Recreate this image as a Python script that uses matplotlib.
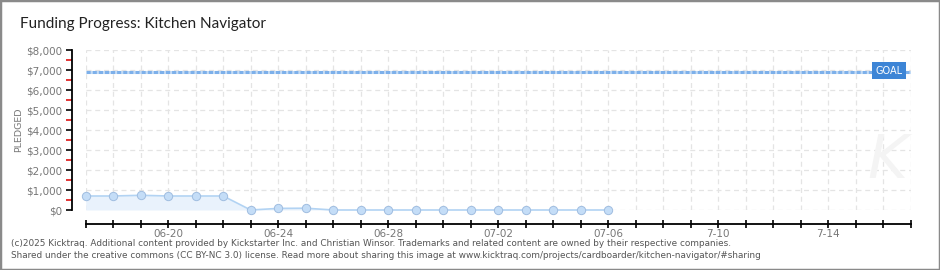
import pandas as pd
import matplotlib
matplotlib.use('Agg')
import matplotlib.pyplot as plt
import matplotlib.dates as mdates
from matplotlib.ticker import FuncFormatter, MultipleLocator
from matplotlib.patches import Rectangle

# данные
dates = ['2025-06-17', '2025-06-18', '2025-06-19', '2025-06-20', '2025-06-21',
         '2025-06-22', '2025-06-23', '2025-06-24', '2025-06-25', '2025-06-26',
         '2025-06-27', '2025-06-28', '2025-06-29', '2025-06-30', '2025-07-01',
         '2025-07-02', '2025-07-03', '2025-07-04', '2025-07-05', '2025-07-06']
pledged = [700, 700, 735, 700, 700, 700, 0, 80, 90, 0,
           0, 0, 0, 0, 0, 0, 0, 0, 0, 0]
goal = 6900
x_start, x_end = '2025-06-17', '2025-07-17'
label_dates = ['2025-06-20', '2025-06-24', '2025-06-28', '2025-07-02',
               '2025-07-06', '2025-07-10', '2025-07-14']
label_texts = ['06-20', '06-24', '06-28', '07-02', '07-06', '7-10', '7-14']

title = 'Funding Progress: Kitchen Navigator'
footer = ['(c)2025 Kicktraq. Additional content provided by Kickstarter Inc. and Christian Winsor. '
          'Trademarks and related content are owned by their respective companies.',
          'Shared under the creative commons (CC BY-NC 3.0) license. Read more about sharing this image at '
          'www.kicktraq.com/projects/cardboarder/kitchen-navigator/#sharing']

x = pd.to_datetime(dates)
labels = dict(zip(pd.to_datetime(label_dates).date, label_texts))

fig = plt.figure(figsize=(9.4, 2.7), dpi=100)
ax = fig.add_axes([85.7 / 940, 60 / 270, 825 / 940, 160 / 270])

# сетка
ax.set_axisbelow(True)
ax.grid(True, color='#e4e4e4', linestyle=(0, (4, 3)), linewidth=0.9)

# линия цели
ax.plot([pd.Timestamp(x_start), pd.Timestamp(x_end)], [goal, goal],
        color='#7db0ea', linewidth=2.2, linestyle=(0, (1.4, 0.6)),
        gapcolor='#c3dbf5', zorder=3)
ax.text(pd.Timestamp('2025-07-16') + pd.Timedelta(hours=5), goal + 60, 'GOAL',
        color='white', fontsize=7, ha='center', va='center',
        bbox=dict(boxstyle='square,pad=0.35', facecolor='#3d85d6', edgecolor='none'),
        zorder=5)

# данные по сборам
ax.fill_between(x, pledged, 0, color='#e9f2fc', linewidth=0, zorder=2, clip_on=False)
ax.plot(x, pledged, color='#b2d3f3', linewidth=1.2, marker='o', markersize=6,
        markerfacecolor='#c4ddf7', markeredgecolor='#a0bde0', markeredgewidth=0.7,
        zorder=4, clip_on=False)

# водяной знак
ax.text(0.972, 0.12, 'K', transform=ax.transAxes, fontsize=44, style='italic',
        color='#f4f4f4', ha='center', va='bottom', zorder=1)

# оси
ax.set_xlim(pd.Timestamp(x_start), pd.Timestamp(x_end))
ax.set_ylim(0, 8000)
ax.spines['top'].set_visible(False)
ax.spines['right'].set_visible(False)
ax.spines['left'].set_position(('outward', 10))
ax.spines['bottom'].set_position(('outward', 10))
for s in ('left', 'bottom'):
    ax.spines[s].set_linewidth(1.3)
    ax.spines[s].set_color('black')

ax.yaxis.set_major_locator(MultipleLocator(1000))
ax.yaxis.set_minor_locator(MultipleLocator(500))
ax.yaxis.set_major_formatter(FuncFormatter(lambda v, p: '${:,.0f}'.format(v)))
ax.tick_params(axis='y', which='major', direction='out', length=4, width=1.2,
               color='black', labelsize=7.5, labelcolor='#777777', pad=3)
ax.tick_params(axis='y', which='minor', direction='out', length=4, width=1.2,
               color='#dd1111')

ax.xaxis.set_major_locator(mdates.DayLocator())
ax.xaxis.set_major_formatter(FuncFormatter(
    lambda v, p: labels.get(mdates.num2date(v).date(), '')))
ax.tick_params(axis='x', which='major', direction='inout', length=6, width=1.2,
               color='black', labelsize=7.5, labelcolor='#777777', pad=1)

ax.set_ylabel('PLEDGED', fontsize=6.8, color='#777777')
ax.yaxis.set_label_coords(-63 / 825, 0.5)

# заголовок и подвал
fig.text(20 / 940, 1 - 24 / 270, title, fontsize=11, color='#222222',
         family=['Lato', 'DejaVu Sans'], va='center', ha='left')
fig.text(11 / 940, 1 - 243 / 270, footer[0], fontsize=6.4, color='#555555',
         va='center', ha='left')
fig.text(11 / 940, 1 - 256 / 270, footer[1], fontsize=6.4, color='#555555',
         va='center', ha='left')

# рамка
fig.patches.append(Rectangle((0, 0), 1, 1, transform=fig.transFigure, fill=False,
                             edgecolor='#8a8a8a', linewidth=2.5))

fig.savefig('out.png', dpi=100)
